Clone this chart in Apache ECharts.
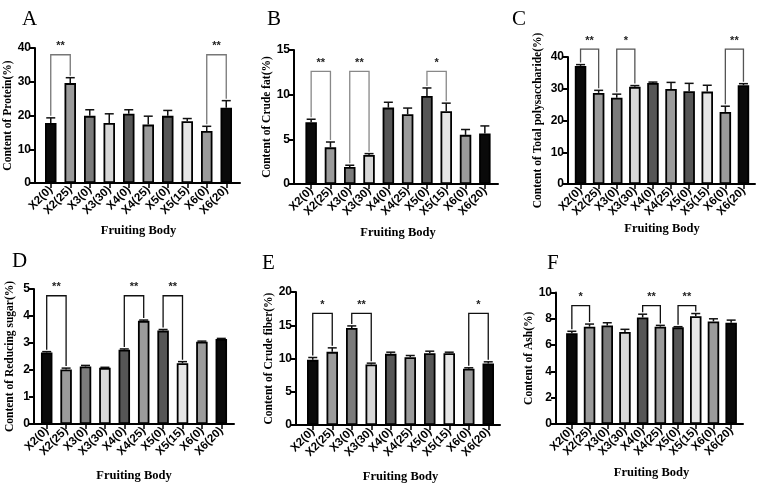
<!DOCTYPE html>
<html>
<head>
    <meta charset="utf-8">
    <title>Fruiting body composition</title>
    <script src="https://cdn.jsdelivr.net/npm/echarts@6/dist/echarts.min.js"></script>
    <style>
        html, body { margin: 0; padding: 0; background: #fff; }
        #chart { width: 763px; height: 484px; }
    </style>
</head>
<body>
<div id="chart"></div>
<script>
    // categories and bar fills
    const categories = ['X2(0)', 'X2(25)', 'X3(0)', 'X3(30)', 'X4(0)', 'X4(25)', 'X5(0)', 'X5(15)', 'X6(0)', 'X6(20)'];
    const barColors = ['#0a0a0a', '#9b9b9b', '#7b7b7b', '#d7d7d7', '#565656', '#9b9b9b', '#565656', '#e6e6e6', '#9b9b9b', '#0a0a0a'];

    // A - protein
    const proteinMean = [17.8, 29.6, 19.9, 17.8, 20.5, 17.3, 19.9, 18.3, 15.4, 22.3];
    const proteinErr = [1.5, 1.6, 1.8, 2.7, 1.2, 2.5, 1.6, 0.8, 1.4, 2.1];
    const proteinSig = [[0, 1, 38, '**'], [8, 9, 38, '**']];

    // B - crude fat
    const fatMean = [6.9, 4.1, 1.9, 3.25, 8.55, 7.8, 9.85, 8.15, 5.5, 5.65];
    const fatErr = [0.35, 0.6, 0.2, 0.15, 0.6, 0.7, 0.9, 0.9, 0.6, 0.85];
    const fatSig = [[0, 1, 12.6, '**'], [2, 3, 12.6, '**'], [6, 7, 12.6, '*']];

    // C - total polysaccharide
    const polyMean = [37.2, 28.7, 27.2, 30.6, 31.8, 29.9, 29.2, 29.1, 22.7, 31.1];
    const polyErr = [0.4, 0.8, 1.1, 0.4, 0.3, 2.1, 2.5, 2.0, 1.8, 0.5];
    const polySig = [[0, 1, 42.5, '**'], [2, 3, 42.5, '*'], [8, 9, 42.5, '**']];

    // D - reducing sugar
    const sugarMean = [2.65, 2.02, 2.13, 2.08, 2.75, 3.82, 3.46, 2.25, 3.05, 3.15];
    const sugarErr = [0.03, 0.05, 0.04, 0.02, 0.03, 0.03, 0.04, 0.06, 0.02, 0.02];
    const sugarSig = [[0, 1, 4.75, '**'], [4, 5, 4.75, '**'], [6, 7, 4.75, '**']];

    // E - crude fiber
    const fiberMean = [9.8, 11.0, 14.6, 9.1, 10.7, 10.2, 10.8, 10.8, 8.45, 9.25];
    const fiberErr = [0.35, 0.6, 0.3, 0.2, 0.25, 0.25, 0.3, 0.15, 0.15, 0.25];
    const fiberSig = [[0, 1, 16.8, '*'], [2, 3, 16.8, '**'], [8, 9, 16.8, '*']];

    // F - ash
    const ashMean = [6.9, 7.4, 7.5, 7.0, 8.1, 7.4, 7.35, 8.2, 7.8, 7.7];
    const ashErr = [0.15, 0.2, 0.2, 0.2, 0.25, 0.1, 0.05, 0.2, 0.2, 0.2];
    const ashSig = [[0, 1, 9.0, '*'], [4, 5, 9.0, '**'], [6, 7, 9.0, '**']];

    const serif = 'Liberation Serif';
    const sans = 'Liberation Sans';

    // layout of every panel
    const panels = [
        {letter: 'A', lx: 17, ly: 4, name: 'Content of Protein(%)', mean: proteinMean, err: proteinErr, sig: proteinSig,
            max: 40, step: 10, axisX: 35, axisEnd: 240, top: 48, bottom: 183, barL: 41, barR: 236, yGap: 18, xGap: 41, sigColor: '#777'},
        {letter: 'B', lx: 262, ly: 4, name: 'Content of Crude fat(%)', mean: fatMean, err: fatErr, sig: fatSig,
            max: 15, step: 5, axisX: 294, axisEnd: 498, top: 50, bottom: 184, barL: 301.5, barR: 494.5, yGap: 20, xGap: 42, sigColor: '#888'},
        {letter: 'C', lx: 507, ly: 4, name: 'Content of Total polysaccharide(%)', mean: polyMean, err: polyErr, sig: polySig,
            max: 40, step: 10, axisX: 568, axisEnd: 755, top: 57, bottom: 184, barL: 571.5, barR: 752.5, yGap: 24, xGap: 38, sigColor: '#555'},
        {letter: 'D', lx: 7, ly: 246, name: 'Content of Reducing sugar(%)', mean: sugarMean, err: sugarErr, sig: sugarSig,
            max: 5, step: 1, axisX: 34, axisEnd: 234, top: 289, bottom: 424, barL: 37, barR: 231, yGap: 18, xGap: 45, sigColor: '#111'},
        {letter: 'E', lx: 257, ly: 248, name: 'Content of Crude fiber(%)', mean: fiberMean, err: fiberErr, sig: fiberSig,
            max: 20, step: 5, axisX: 296, axisEnd: 500, top: 292, bottom: 425, barL: 303, barR: 498, yGap: 18, xGap: 45, sigColor: '#111'},
        {letter: 'F', lx: 542, ly: 248, name: 'Content of Ash(%)', mean: ashMean, err: ashErr, sig: ashSig,
            max: 10, step: 2, axisX: 556, axisEnd: 743, top: 292.5, bottom: 424, barL: 563, barR: 740, yGap: 18, xGap: 42, sigColor: '#111'}
    ];

    let option = {
        animation: false,
        backgroundColor: '#ffffff',
        title: [],
        grid: [],
        xAxis: [],
        yAxis: [],
        series: []
    };

    panels.forEach(function (p, k) {
        const g0 = 2 * k, g1 = 2 * k + 1;
        const h = p.bottom - p.top;

        option.title.push({
            text: p.letter, left: p.lx, top: p.ly,
            textStyle: {fontFamily: serif, fontWeight: 'normal', fontSize: 21, color: '#000'}
        });

        // frame grid: y axis + full length x axis line
        option.grid.push({left: p.axisX, top: p.top, width: p.axisEnd - p.axisX, height: h});
        // bar grid
        option.grid.push({left: p.barL, top: p.top, width: p.barR - p.barL, height: h});

        option.xAxis.push({
            gridIndex: g0, type: 'value', min: 0, max: 1,
            axisLine: {show: true, lineStyle: {color: '#000', width: 2}},
            axisTick: {show: false}, axisLabel: {show: false}, splitLine: {show: false}
        });
        option.yAxis.push({
            gridIndex: g0, type: 'value', min: 0, max: p.max, interval: p.step,
            name: p.name, nameLocation: 'middle', nameGap: p.yGap,
            nameTextStyle: {fontFamily: serif, fontWeight: 'bold', fontSize: 11.5, color: '#000'},
            axisLine: {show: true, lineStyle: {color: '#000', width: 2}},
            axisTick: {show: true, length: 5, lineStyle: {color: '#000', width: 2}},
            axisLabel: {fontFamily: sans, fontWeight: 'bold', fontSize: 12, color: '#000', margin: 4},
            splitLine: {show: false}
        });

        option.xAxis.push({
            gridIndex: g1, type: 'category', data: categories,
            axisLine: {show: false},
            axisTick: {show: true, alignWithLabel: true, interval: 0, length: 5, lineStyle: {color: '#000', width: 1.5}},
            axisLabel: {interval: 0, rotate: 45, margin: 5, fontFamily: sans, fontWeight: 'bold', fontSize: 11.5, color: '#000'},
            name: 'Fruiting Body', nameLocation: 'middle', nameGap: p.xGap,
            nameTextStyle: {fontFamily: serif, fontWeight: 'bold', fontSize: 12.5, color: '#000'}
        });
        option.yAxis.push({gridIndex: g1, type: 'value', min: 0, max: p.max, show: false});

        option.series.push({
            type: 'bar', xAxisIndex: g1, yAxisIndex: g1, barWidth: 11.5,
            data: p.mean.map(function (v, i) {
                return {value: v, itemStyle: {color: barColors[i]}};
            }),
            itemStyle: {borderColor: '#000', borderWidth: 1.8}
        });

        // error bars (upper only)
        option.series.push({
            type: 'custom', xAxisIndex: g1, yAxisIndex: g1, clip: false, z: 3,
            data: p.mean.map(function (v, i) { return [i, v, p.err[i]]; }),
            renderItem: function (params, api) {
                const a = api.coord([api.value(0), api.value(1)]);
                const b = api.coord([api.value(0), api.value(1) + api.value(2)]);
                const cw = 4.5;
                return {
                    type: 'group', children: [
                        {type: 'line', shape: {x1: a[0], y1: a[1], x2: b[0], y2: b[1]}, style: {stroke: '#111', lineWidth: 1.5}},
                        {type: 'line', shape: {x1: b[0] - cw, y1: b[1], x2: b[0] + cw, y2: b[1]}, style: {stroke: '#111', lineWidth: 1.5}}
                    ]
                };
            }
        });

        // significance brackets
        option.series.push({
            type: 'custom', xAxisIndex: g1, yAxisIndex: g1, clip: false, z: 4,
            data: p.sig.map(function (s) { return [s[0], s[2]]; }),
            renderItem: function (params, api) {
                const s = p.sig[params.dataIndex];
                const a = api.coord([s[0], s[2]]);
                const b = api.coord([s[1], s[2]]);
                const la = api.coord([s[0], p.mean[s[0]] + p.err[s[0]]]);
                const lb = api.coord([s[1], p.mean[s[1]] + p.err[s[1]]]);
                return {
                    type: 'group', children: [
                        {type: 'polyline', shape: {points: [[a[0], la[1] - 2], [a[0], a[1]], [b[0], b[1]], [b[0], lb[1] - 2]]},
                            style: {stroke: p.sigColor, lineWidth: 1.3, fill: null}},
                        {type: 'text', x: (a[0] + b[0]) / 2, y: a[1] - 3,
                            style: {text: s[3], fill: '#222', font: 'bold 11px ' + sans, align: 'center', verticalAlign: 'bottom'}}
                    ]
                };
            }
        });
    });

    let chart = echarts.init(document.getElementById('chart'));
    chart.setOption(option);
</script>
</body>
</html>
